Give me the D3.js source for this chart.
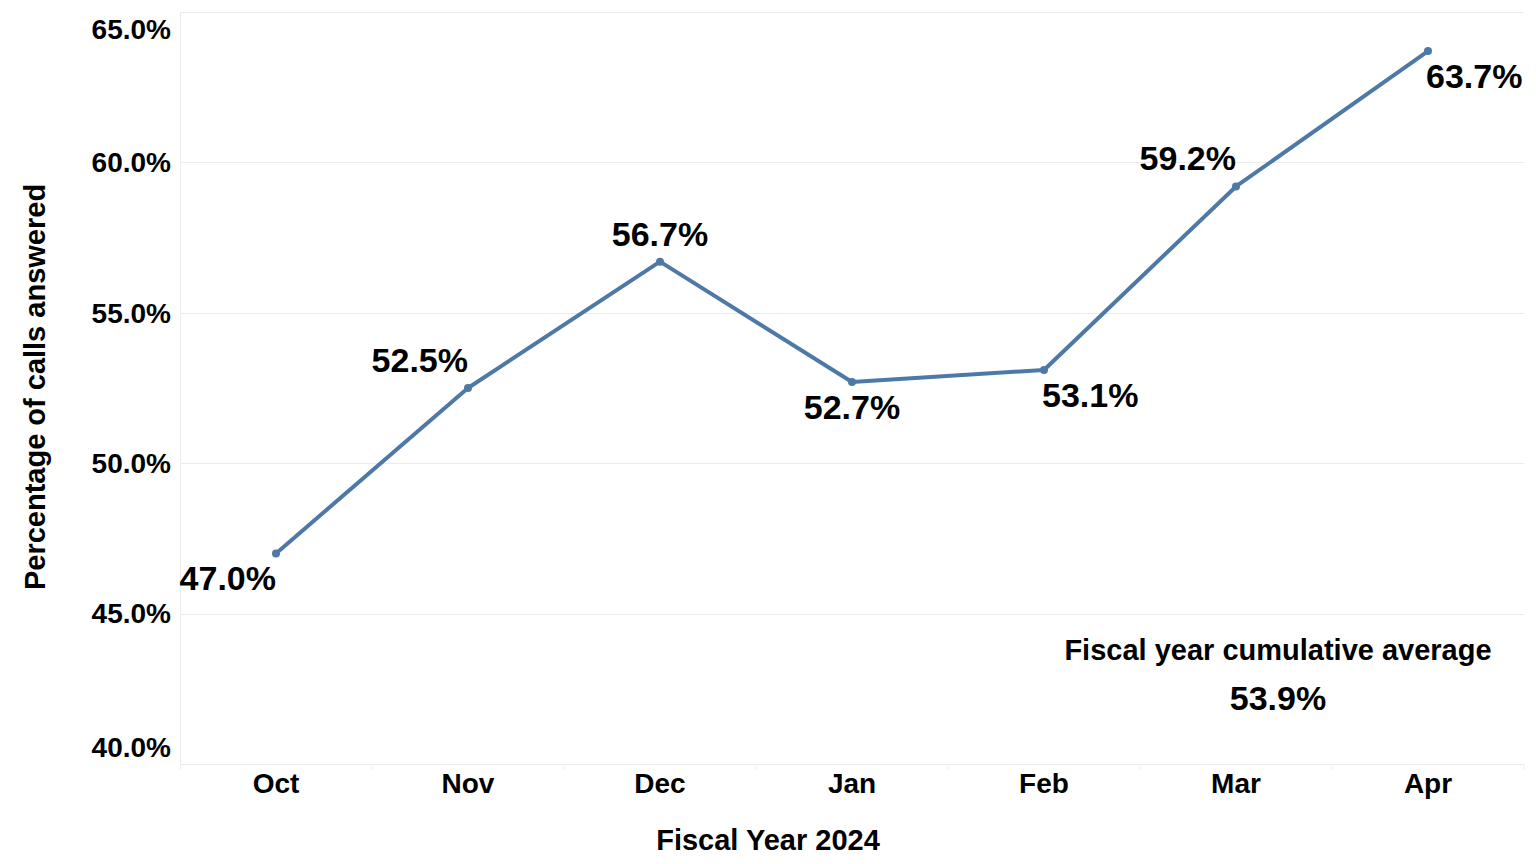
<!DOCTYPE html>
<html>
<head>
<meta charset="utf-8">
<script src="https://cdn.jsdelivr.net/npm/d3@7"></script>
<style>
  html, body { margin: 0; padding: 0; background: #fff; }
  svg { display: block; font-family: "Liberation Sans", Arial, sans-serif; font-weight: bold; }
</style>
</head>
<body>
<svg id="chart" width="1536" height="864"></svg>
<script>
// ---- data ----
const months = ["Oct", "Nov", "Dec", "Jan", "Feb", "Mar", "Apr"];
const pctAnswered = [47.0, 52.5, 56.7, 52.7, 53.1, 59.2, 63.7];
const yTicks = [40, 45, 50, 55, 60, 65];
const cumulativeAverage = 53.9;
const xTitle = "Fiscal Year 2024";
const yTitle = "Percentage of calls answered";
const averageTitle = "Fiscal year cumulative average";

// ---- label placement (style, not data) ----
const labelPlacement = ["below-left", "above-left", "above", "below", "below-right", "above-left", "below-right"];

const W = 1536, H = 864;
const plot = { left: 180, right: 1524, top: 12, bottom: 764 };
const svg = d3.select("#chart");
const fmt = d => d3.format(".1f")(d) + "%";

const x = d3.scaleBand().domain(months).range([plot.left, plot.right]).padding(0);
const y = d3.scaleLinear().domain([40, 65]).range([plot.bottom, plot.top]);
const cx = m => x(m) + x.bandwidth() / 2;

const gridColor = "#ebebeb";

// gridlines
svg.append("g").selectAll("line").data(yTicks).join("line")
  .attr("x1", plot.left).attr("x2", plot.right)
  .attr("y1", d => Math.round(y(d)) + 0.5).attr("y2", d => Math.round(y(d)) + 0.5)
  .attr("stroke", gridColor).attr("stroke-width", 1);

// left axis line
svg.append("line")
  .attr("x1", plot.left + 0.5).attr("x2", plot.left + 0.5)
  .attr("y1", plot.top).attr("y2", plot.bottom + 6)
  .attr("stroke", gridColor).attr("stroke-width", 1);

// bottom band ticks
const bounds = months.map(m => x(m)).concat([plot.right]);
svg.append("g").selectAll("line").data(bounds).join("line")
  .attr("x1", d => Math.round(d) + 0.5).attr("x2", d => Math.round(d) + 0.5)
  .attr("y1", plot.bottom).attr("y2", plot.bottom + 6)
  .attr("stroke", "#f0f0f0").attr("stroke-width", 1);

// y tick labels
svg.append("g").selectAll("text").data(yTicks).join("text")
  .attr("x", 171)
  .attr("y", (d, i) => {
    let yy = y(d);
    if (i === 0) yy -= 17;
    if (i === yTicks.length - 1) yy += 17;
    return yy;
  })
  .attr("dy", "0.35em")
  .attr("text-anchor", "end")
  .attr("font-size", 28)
  .attr("fill", "#000")
  .text(d => fmt(d));

// x tick labels
svg.append("g").selectAll("text").data(months).join("text")
  .attr("x", d => cx(d))
  .attr("y", 793)
  .attr("text-anchor", "middle")
  .attr("font-size", 28)
  .attr("fill", "#000")
  .text(d => d);

// axis titles
svg.append("text")
  .attr("x", W / 2).attr("y", 850)
  .attr("text-anchor", "middle")
  .attr("font-size", 29)
  .attr("fill", "#000")
  .text(xTitle);

svg.append("text")
  .attr("transform", `translate(45,${(plot.top + plot.bottom) / 2 - 1}) rotate(-90)`)
  .attr("text-anchor", "middle")
  .attr("font-size", 29)
  .attr("fill", "#000")
  .text(yTitle);

// line
const lineColor = "#4e79a7";
const pts = months.map((m, i) => ({ m, v: pctAnswered[i], p: labelPlacement[i] }));
svg.append("path")
  .datum(pts)
  .attr("fill", "none")
  .attr("stroke", lineColor)
  .attr("stroke-width", 4)
  .attr("stroke-linejoin", "round")
  .attr("d", d3.line().x(d => cx(d.m)).y(d => y(d.v)));

svg.append("g").selectAll("circle").data(pts).join("circle")
  .attr("cx", d => cx(d.m)).attr("cy", d => y(d.v))
  .attr("r", 4).attr("fill", lineColor);

// data labels
svg.append("g").selectAll("text").data(pts).join("text")
  .attr("x", d => {
    const px = cx(d.m);
    if (d.p.endsWith("left")) return px;
    if (d.p.endsWith("right")) return px - 2;
    return px;
  })
  .attr("y", d => d.p.startsWith("above") ? y(d.v) - 16 : y(d.v) + 37)
  .attr("text-anchor", d => d.p.endsWith("left") ? "end" : d.p.endsWith("right") ? "start" : "middle")
  .attr("font-size", 34)
  .attr("fill", "#000")
  .text(d => fmt(d.v));

// cumulative average annotation
const annX = 1278;
svg.append("text")
  .attr("x", annX).attr("y", 660)
  .attr("text-anchor", "middle")
  .attr("font-size", 29)
  .attr("fill", "#000")
  .text(averageTitle);
svg.append("text")
  .attr("x", annX).attr("y", 710)
  .attr("text-anchor", "middle")
  .attr("font-size", 34)
  .attr("fill", "#000")
  .text(fmt(cumulativeAverage));
</script>
</body>
</html>
